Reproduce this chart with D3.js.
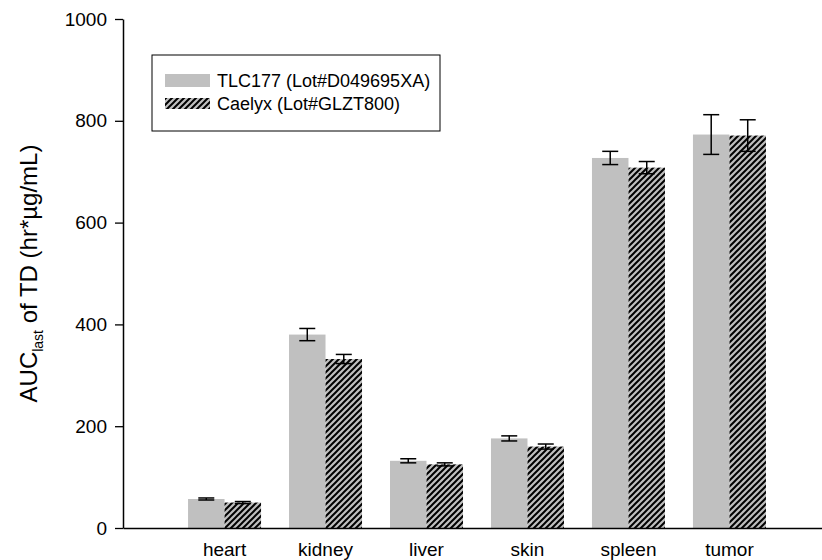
<!DOCTYPE html>
<html>
<head>
<meta charset="utf-8">
<script src="https://cdn.jsdelivr.net/npm/d3@7"></script>
<style>
  body { margin: 0; background: #fff; }
  text { font-family: "Liberation Sans", Arial, sans-serif; }
</style>
</head>
<body>
<div id="chart"></div>
<script>
// data
var organs = ["heart", "kidney", "liver", "skin", "spleen", "tumor"];
var seriesNames = ["TLC177 (Lot#D049695XA)", "Caelyx (Lot#GLZT800)"];
var tlcMean = [57, 380, 132, 176, 727, 773];
var tlcErr = [2, 12, 4, 5, 13, 39];
var caelyxMean = [50, 332, 125, 160, 708, 771];
var caelyxErr = [2, 9, 3, 5, 12, 31];
var yTicks = [0, 200, 400, 600, 800, 1000];

var svgWidth = 822;
var svgHeight = 560;
var margin = { top: 19, right: 0, bottom: 32, left: 123 };
var height = svgHeight - margin.top - margin.bottom;

var svg = d3.select("#chart")
  .append("svg")
  .attr("width", svgWidth)
  .attr("height", svgHeight);

// hatch for the second series
var defs = svg.append("defs");
var pat = defs.append("pattern")
  .attr("id", "hatch")
  .attr("patternUnits", "userSpaceOnUse")
  .attr("width", 6)
  .attr("height", 6);
pat.append("rect").attr("width", 6).attr("height", 6).attr("fill", "#c0c0c0");
pat.append("path")
  .attr("d", "M0,6 L6,0 M-1,1 L1,-1 M5,7 L7,5")
  .attr("stroke", "#000")
  .attr("stroke-width", 2);

var chartGroup = svg.append("g")
  .attr("transform", `translate(${margin.left}, ${margin.top})`);

// build rows for both series
var rows = organs.map(function(o, i) {
  return [
    { organ: o, key: 0, mean: tlcMean[i], err: tlcErr[i] },
    { organ: o, key: 1, mean: caelyxMean[i], err: caelyxErr[i] }
  ];
});

var x0 = d3.scaleBand()
  .domain(organs)
  .range([0, 708])
  .paddingInner(0.277)
  .paddingOuter(0.644);

var x1 = d3.scaleBand()
  .domain([0, 1])
  .range([0, x0.bandwidth()]);

var y = d3.scaleLinear()
  .domain([0, 1000])
  .range([height, 0]);

var fills = ["#c0c0c0", "url(#hatch)"];

// bars
var groups = chartGroup.selectAll(".organ")
  .data(rows)
  .enter()
  .append("g")
  .attr("class", "organ")
  .attr("transform", (d, i) => `translate(${x0(organs[i])}, 0)`);

groups.selectAll("rect")
  .data(d => d)
  .enter()
  .append("rect")
  .attr("x", d => x1(d.key))
  .attr("y", d => y(d.mean))
  .attr("width", x1.bandwidth())
  .attr("height", d => y(0) - y(d.mean))
  .attr("fill", d => fills[d.key]);

// error bars
var errG = groups.selectAll(".err")
  .data(d => d)
  .enter()
  .append("g")
  .attr("class", "err")
  .attr("stroke", "#000")
  .attr("stroke-width", 1.5);

errG.append("line")
  .attr("x1", d => x1(d.key) + x1.bandwidth() / 2)
  .attr("x2", d => x1(d.key) + x1.bandwidth() / 2)
  .attr("y1", d => y(d.mean + d.err))
  .attr("y2", d => y(d.mean - d.err));
errG.append("line")
  .attr("x1", d => x1(d.key) + x1.bandwidth() / 2 - 8)
  .attr("x2", d => x1(d.key) + x1.bandwidth() / 2 + 8)
  .attr("y1", d => y(d.mean + d.err))
  .attr("y2", d => y(d.mean + d.err));
errG.append("line")
  .attr("x1", d => x1(d.key) + x1.bandwidth() / 2 - 8)
  .attr("x2", d => x1(d.key) + x1.bandwidth() / 2 + 8)
  .attr("y1", d => y(d.mean - d.err))
  .attr("y2", d => y(d.mean - d.err));

// axes
var xAxis = chartGroup.append("g")
  .attr("transform", `translate(0, ${height})`)
  .call(d3.axisBottom(x0).tickSize(0).tickPadding(15).tickSizeOuter(0));
xAxis.select(".domain").attr("stroke-width", 1.5);
xAxis.selectAll("text").attr("font-size", "19px").attr("fill", "#000")
  .style("font-family", "'Liberation Sans', Arial, sans-serif");

var yAxis = chartGroup.append("g")
  .call(d3.axisLeft(y).tickValues(yTicks).tickFormat(d3.format("d"))
    .tickSize(8).tickPadding(8).tickSizeOuter(0));
yAxis.select(".domain").attr("stroke-width", 1.5);
yAxis.selectAll("line").attr("stroke-width", 1.3);
yAxis.selectAll("text").attr("font-size", "19px").attr("fill", "#000")
  .style("font-family", "'Liberation Sans', Arial, sans-serif");

// y axis label with subscript
var yLabel = svg.append("text")
  .attr("transform", `translate(37, ${margin.top + height / 2}) rotate(-90)`)
  .attr("text-anchor", "middle")
  .attr("font-size", "24px")
  .attr("fill", "#000");
yLabel.append("tspan").text("AUC");
yLabel.append("tspan").attr("font-size", "14px").attr("dy", 6).text("last");
yLabel.append("tspan").attr("dy", -6).text(" of TD (hr*\u00b5g/mL)");

// legend
var legend = svg.append("g");
legend.append("rect")
  .attr("x", 152).attr("y", 55)
  .attr("width", 288).attr("height", 76)
  .attr("fill", "#fff")
  .attr("stroke", "#000")
  .attr("stroke-width", 1);
seriesNames.forEach(function(name, i) {
  legend.append("rect")
    .attr("x", 165).attr("y", 74 + i * 24)
    .attr("width", 45).attr("height", i === 0 ? 13 : 11)
    .attr("fill", fills[i]);
  legend.append("text")
    .attr("x", 217).attr("y", 87 + i * 23)
    .attr("font-size", "18px")
    .attr("fill", "#000")
    .text(name);
});
</script>
</body>
</html>
